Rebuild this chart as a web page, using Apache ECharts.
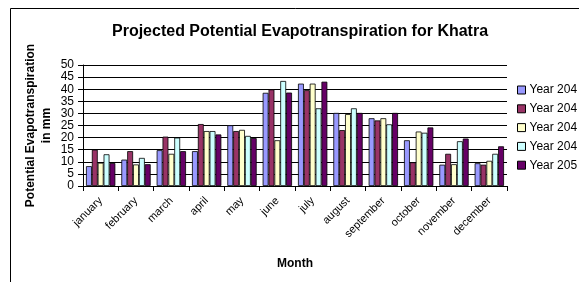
<!DOCTYPE html>
<html>
<head>
<meta charset="utf-8">
<script src="https://cdn.jsdelivr.net/npm/echarts@6/dist/echarts.min.js"></script>
<style>
  html, body { margin: 0; padding: 0; background: #fff; }
  #chart { width: 579px; height: 282px; }
</style>
</head>
<body>
<div id="chart"></div>
<script>
// 月份
var months = ['january', 'february', 'march', 'april', 'may', 'june',
    'july', 'august', 'september', 'october', 'november', 'december'];
// 图例文字（原图被截断）
var legendLabels = ['Year 204', 'Year 204', 'Year 204', 'Year 204', 'Year 205'];
var barColors = ['#9999FF', '#993366', '#FFFFCC', '#CCFFFF', '#660066'];
// 各系列数值
var year1 = [8.2, 10.9, 14.8, 14.4, 25.1, 38.5, 42.3, 30.2, 28.0, 18.9, 8.8, 9.4];
var year2 = [15.0, 14.4, 20.4, 25.6, 22.7, 39.9, 39.6, 23.1, 27.1, 9.8, 13.3, 8.8];
var year3 = [9.6, 8.9, 13.3, 22.7, 23.2, 18.9, 42.3, 29.7, 28.0, 22.5, 9.0, 10.4];
var year4 = [13.1, 11.6, 20.0, 22.7, 20.7, 43.4, 32.1, 32.1, 25.5, 22.0, 18.5, 13.3];
var year5 = [9.5, 9.0, 14.4, 21.3, 19.8, 38.6, 43.1, 30.2, 30.2, 24.2, 19.6, 16.4];
var yTicks = { min: 0, max: 50, step: 5 };

var font = 'Liberation Sans, Arial, sans-serif';
var myChart = echarts.init(document.getElementById('chart'));

// 名称重复，用零宽字符区分
var seriesNames = legendLabels.map(function (l, i) {
    return l + '\u200b'.repeat(i);
});
var allData = [year1, year2, year3, year4, year5];
var series = allData.map(function (d, i) {
    return {
        name: seriesNames[i],
        type: 'bar',
        data: d,
        barGap: '0%',
        barCategoryGap: '17%',
        itemStyle: { color: barColors[i], borderColor: '#000', borderWidth: 0.8 }
    };
});

var option = {
    animation: false,
    backgroundColor: '#fff',
    textStyle: { fontFamily: font },
    title: {
        text: 'Projected Potential Evapotranspiration for Khatra',
        left: 107,
        top: 19,
        textStyle: { fontSize: 16, fontWeight: 'bold', color: '#000', fontFamily: font }
    },
    legend: {
        orient: 'vertical',
        left: 512,
        top: 79,
        itemWidth: 8,
        itemHeight: 8,
        itemGap: 6.8,
        icon: 'rect',
        itemStyle: { borderColor: '#000', borderWidth: 1 },
        textStyle: { fontSize: 12, color: '#000', fontFamily: font, padding: [0, 0, 0, -1] },
        data: seriesNames
    },
    grid: { left: 83, right: 72, top: 65, bottom: 96, containLabel: false },
    xAxis: {
        type: 'category',
        data: months,
        name: 'Month',
        nameLocation: 'middle',
        nameGap: 72,
        nameTextStyle: { fontSize: 12, fontWeight: 'bold', color: '#000', fontFamily: font },
        axisLine: { lineStyle: { color: '#000' } },
        axisTick: { show: true, length: 5, lineStyle: { color: '#000' } },
        axisLabel: { rotate: 45, fontSize: 11, color: '#000', margin: 13, interval: 0, fontFamily: font }
    },
    yAxis: {
        type: 'value',
        min: yTicks.min,
        max: yTicks.max,
        interval: yTicks.step,
        name: 'Potential Evapotranspiration\nin mm',
        nameLocation: 'middle',
        nameRotate: 90,
        nameGap: 28,
        nameMoveOverlap: false,
        nameTextStyle: { fontSize: 12, fontWeight: 'bold', color: '#000', lineHeight: 16, fontFamily: font },
        axisLine: { show: true, lineStyle: { color: '#000' } },
        axisTick: { show: true, length: 5, lineStyle: { color: '#000' } },
        axisLabel: { fontSize: 12, color: '#000', margin: 9, fontFamily: font },
        splitLine: { show: true, lineStyle: { color: '#000', width: 1 } }
    },
    graphic: [{
        type: 'rect',
        shape: { x: 10.5, y: 8.5, width: 620, height: 300 },
        style: { fill: 'none', stroke: '#000', lineWidth: 1 },
        silent: true
    }],
    series: series
};

myChart.setOption(option);
</script>
</body>
</html>
